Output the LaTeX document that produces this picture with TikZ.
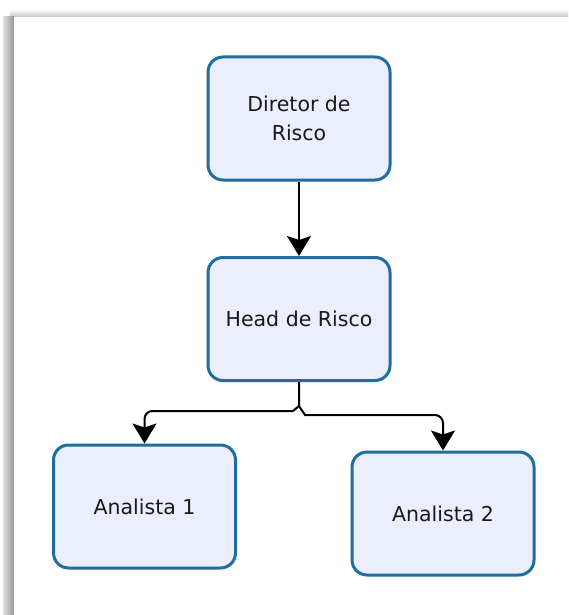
\documentclass[tikz,border=0pt]{standalone}
\usepackage{fontspec}
\setmainfont{DejaVu Sans}
\usepackage{tikz}
\usetikzlibrary{arrows.meta}

\definecolor{boxline}{HTML}{1F6E9E}
\definecolor{boxfill}{HTML}{EBEEFC}

\tikzset{
  role/.style={draw=boxline, fill=boxfill, line width=3pt, rounded corners=15pt,
    minimum width=182pt, minimum height=123pt, align=center,
    font=\fontsize{20.5}{29}\selectfont, text=black!90},
  conn/.style={line width=2pt, draw=black, -{Stealth[length=20pt,width=24pt,inset=4pt]}}
}

\begin{document}
\begin{tikzpicture}[x=1pt,y=-1pt]
\useasboundingbox (0,0) rectangle (568,615);
% window frame
\fill[white] (0,0) rectangle (568,615);
\shade[top color=white, bottom color=gray!45] (10,9) rectangle (568,17);
\shade[left color=gray!25, right color=gray!80] (3,17) rectangle (14,615);
\fill[white] (14,17) rectangle (568,615);

\node[role] (dir) at (299,118.5) {Diretor de\\Risco};
\node[role] (head) at (299,319) {Head de Risco};
\node[role] (ana1) at (144.5,506.5) {Analista 1};
\node[role] (ana2) at (443,513.5) {Analista 2};

\coordinate (split) at (299,406);
\coordinate (hopL) at (293,411);
\coordinate (hopR) at (305,415);

\draw[conn] (dir) -- (head);
\draw[conn] (head.south) -- (split) -- (hopL) [rounded corners=8pt] -| (ana1.north);
\draw[conn] (split) -- (hopR) [rounded corners=8pt] -| (ana2.north);
\end{tikzpicture}
\end{document}
